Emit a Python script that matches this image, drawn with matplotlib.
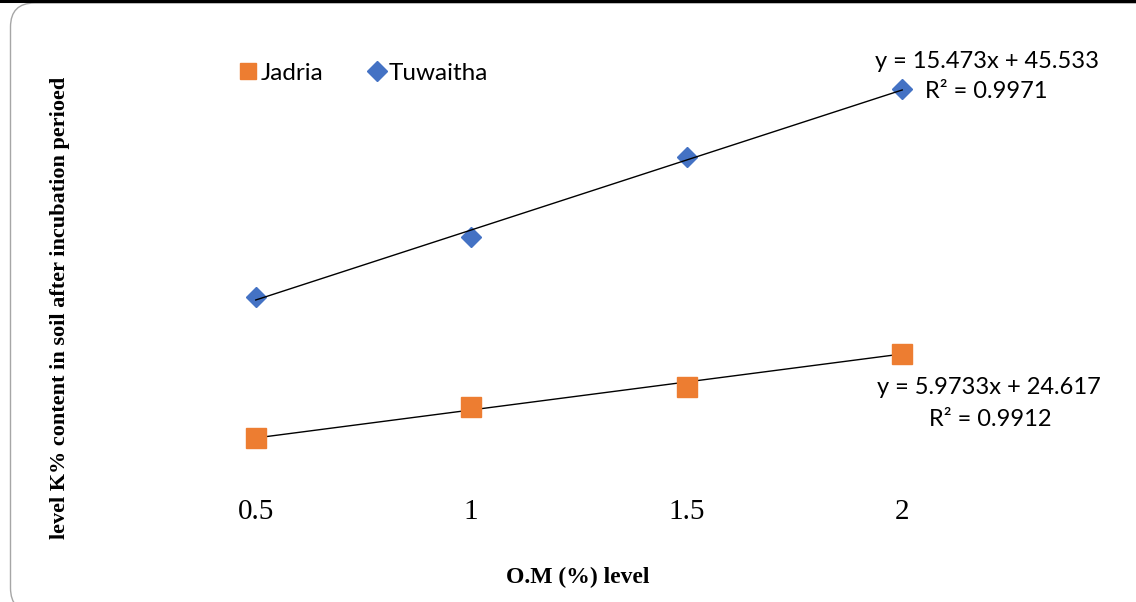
import numpy as np
import matplotlib
matplotlib.use('Agg')
import matplotlib.pyplot as plt
from matplotlib.lines import Line2D
from matplotlib.patches import FancyBboxPatch
from matplotlib.transforms import IdentityTransform

W, H = 1136, 602

# O.M (%) levels and measured K% for each soil
om_levels = [0.5, 1, 1.5, 2]
tick_labels = ['0.5', '1', '1.5', '2']
jadria = [27.6, 30.9, 33.05, 36.55]
tuwaitha = [53.65, 60.2, 69.05, 76.55]

# linear trendlines (slope, intercept, R^2)
jadria_fit = [5.9733, 24.617, 0.9912]
tuwaitha_fit = [15.473, 45.533, 0.9971]

ORANGE = '#ED7D31'
BLUE = '#4472C4'
SERIF = 'Liberation Serif'
SANS = 'Lato'


def px(x, y):
    # pixel position (from top-left) -> figure fraction
    return x / W, 1 - y / H


fig = plt.figure(figsize=(W / 100, H / 100), dpi=100)

left, right, top, bottom = 148, 1010, 40, 495
ax = fig.add_axes([left / W, 1 - bottom / H, (right - left) / W, (bottom - top) / H])
ax2 = ax.twinx()

for a in (ax, ax2):
    for s in a.spines.values():
        s.set_visible(False)
    a.set_yticks([])
    a.patch.set_visible(False)

ax.set_xlim(0.25, 2.25)
ax.set_ylim(21.52, 70.05)      # Jadria scale
ax2.set_ylim(31.72, 82.0)      # Tuwaitha scale

xs = np.array([om_levels[0], om_levels[-1]])

# Jadria
ax.plot(xs, jadria_fit[0] * xs + jadria_fit[1], color='black', lw=1.0, zorder=2)
ax.plot(om_levels, jadria, ls='none', marker='s', ms=14, color=ORANGE, mec=ORANGE, zorder=3)

# Tuwaitha
ax2.plot(xs, tuwaitha_fit[0] * xs + tuwaitha_fit[1], color='black', lw=1.0, zorder=4)
ax2.plot(om_levels, tuwaitha, ls='none', marker='D', ms=10, color=BLUE, mec=BLUE, zorder=3)

ax.set_xticks(om_levels)
ax.set_xticklabels(tick_labels, fontfamily=SERIF, fontsize=21)
ax.tick_params(axis='x', length=0, pad=3)

# legend
handles = [Line2D([], [], ls='none', marker='s', ms=12, color=ORANGE, label='Jadria'),
           Line2D([], [], ls='none', marker='D', ms=10, color=BLUE, label='Tuwaitha')]
fig.legend(handles=handles, loc='center left', bbox_to_anchor=px(229, 73), ncol=2,
           frameon=False, prop={'family': SANS, 'size': 17.5}, handlelength=0.6,
           handletextpad=0.2, columnspacing=1.9, borderpad=0)

# trendline equations
eq_style = dict(family=SANS, fontsize=17, ha='center', va='center')
fig.text(*px(987, 62), 'y = %.3fx + %.3f' % (tuwaitha_fit[0], tuwaitha_fit[1]), **eq_style)
fig.text(*px(986, 92), 'R² = %.4f' % tuwaitha_fit[2], **eq_style)
fig.text(*px(989, 387), 'y = %.4fx + %.3f' % (jadria_fit[0], jadria_fit[1]), **eq_style)
fig.text(*px(990, 420), 'R² = %.4f' % jadria_fit[2], **eq_style)

# axis titles
fig.text(*px(60, 308), 'level K% content in soil after incubation perioed', rotation=90,
         family=SERIF, fontweight='bold', fontsize=16, ha='center', va='center')
fig.text(*px(578, 577), 'O.M (%) level', family=SERIF, fontweight='bold', fontsize=17,
         ha='center', va='center')

# chart frame
frame = FancyBboxPatch((10.5, -10), 1200, 609, boxstyle='round,pad=0,rounding_size=24',
                       transform=IdentityTransform(), fill=False, ec='#A6A6A6', lw=1.0)
fig.patches.append(frame)
fig.add_artist(Line2D([0, 1], [1 - 1.2 / H, 1 - 1.2 / H], transform=fig.transFigure,
                      color='black', lw=2.2))

fig.savefig('out.png', dpi=100)
